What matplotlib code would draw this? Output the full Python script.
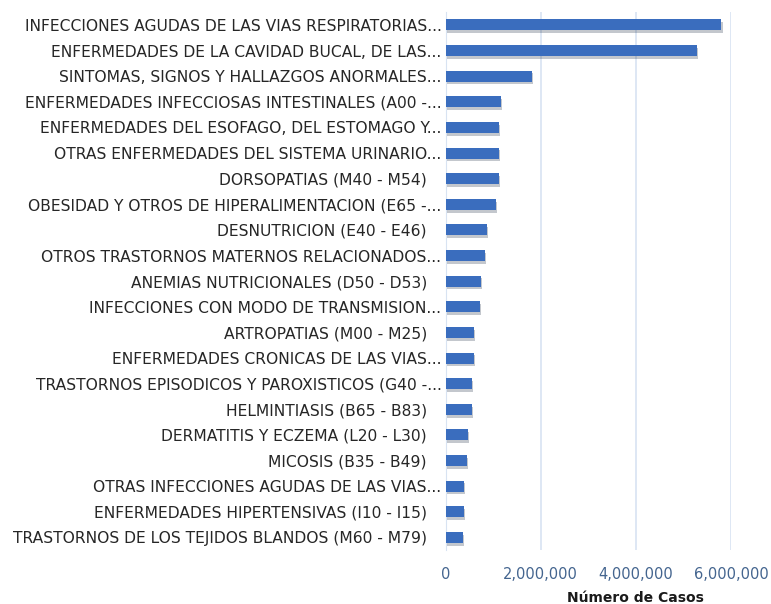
import matplotlib.pyplot as plt
import matplotlib.patheffects as pe

# Categorías (de arriba hacia abajo) y número de casos
categorias = [
    "INFECCIONES AGUDAS DE LAS VIAS RESPIRATORIAS...",
    "ENFERMEDADES DE LA CAVIDAD BUCAL, DE LAS...",
    "SINTOMAS, SIGNOS Y HALLAZGOS ANORMALES...",
    "ENFERMEDADES INFECCIOSAS INTESTINALES (A00 -...",
    "ENFERMEDADES DEL ESOFAGO, DEL ESTOMAGO Y...",
    "OTRAS ENFERMEDADES DEL SISTEMA URINARIO...",
    "DORSOPATIAS (M40 - M54)   ",
    "OBESIDAD Y OTROS DE HIPERALIMENTACION (E65 -...",
    "DESNUTRICION (E40 - E46)   ",
    "OTROS TRASTORNOS MATERNOS RELACIONADOS...",
    "ANEMIAS NUTRICIONALES (D50 - D53)   ",
    "INFECCIONES CON MODO DE TRANSMISION...",
    "ARTROPATIAS (M00 - M25)   ",
    "ENFERMEDADES CRONICAS DE LAS VIAS...",
    "TRASTORNOS EPISODICOS Y PAROXISTICOS (G40 -...",
    "HELMINTIASIS (B65 - B83)   ",
    "DERMATITIS Y ECZEMA (L20 - L30)   ",
    "MICOSIS (B35 - B49)   ",
    "OTRAS INFECCIONES AGUDAS DE LAS VIAS...",
    "ENFERMEDADES HIPERTENSIVAS (I10 - I15)   ",
    "TRASTORNOS DE LOS TEJIDOS BLANDOS (M60 - M79)   ",
]
casos = [
    5800000, 5290000, 1820000, 1170000, 1120000, 1120000, 1120000,
    1065000, 876000, 820000, 743000, 715000, 600000, 600000,
    547000, 547000, 470000, 440000, 390000, 390000, 365000,
]
ticks_x = [0, 2000000, 4000000, 6000000]

fig = plt.figure(figsize=(7.71, 6.04), dpi=100)
ax = fig.add_axes([0.578, 0.089, 0.370, 0.891])

pos = list(range(len(categorias)))[::-1]
barras = ax.barh(pos, casos, height=0.43, color="#3A6DBE", zorder=3)
for b in barras:
    b.set_path_effects([pe.SimplePatchShadow(offset=(0.8, -2), alpha=0.25), pe.Normal()])

ax.set_ylim(-0.5, len(categorias) - 0.5)
ax.set_xlim(0, 6000000)
ax.set_yticks(pos)
ax.set_yticklabels(categorias, fontsize=11.2, color="#262626", family="DejaVu Sans")
ax.set_xticks(ticks_x)
ax.set_xticklabels([f"{t:,}" for t in ticks_x], fontsize=10.5, color="#44658F", family="DejaVu Sans")
ax.tick_params(length=0)
ax.tick_params(axis="x", pad=12)
ax.tick_params(axis="y", pad=3)

ax.grid(axis="x", color="#D8E3F2", linewidth=1.2, zorder=0)
for s in ["top", "right", "bottom"]:
    ax.spines[s].set_visible(False)
ax.spines["left"].set_color("#D8E3F2")

ax.set_xlabel("Número de Casos", fontsize=10, fontweight="bold", color="#1a1a1a", family="DejaVu Sans")
ax.xaxis.set_label_coords(0.667, -0.075)

plt.savefig("out.png", dpi=100)
